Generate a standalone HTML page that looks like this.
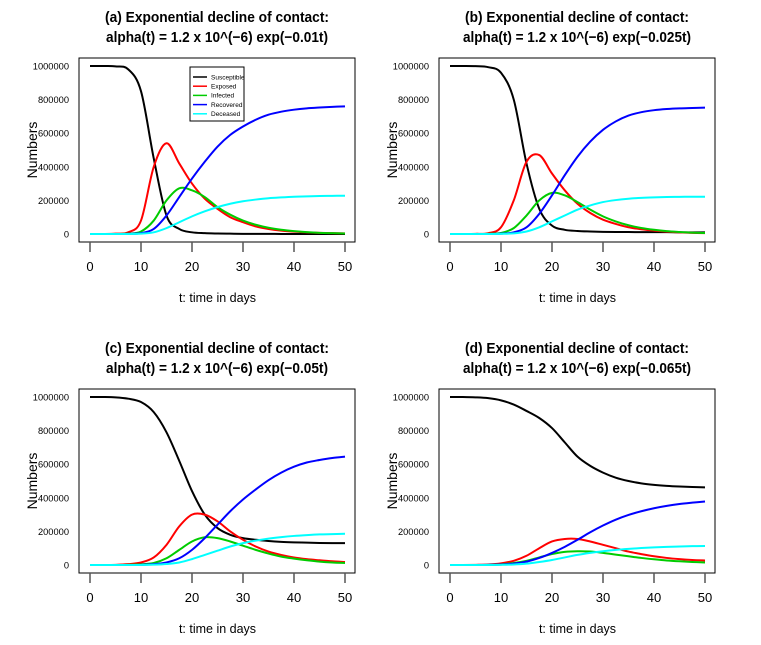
<!DOCTYPE html>
<html><head><meta charset="utf-8">
<style>
html,body{margin:0;padding:0;background:#fff;}
svg{display:block;font-family:"Liberation Sans",Arial,sans-serif;}
</style></head>
<body>
<svg id="chart" width="761" height="645" viewBox="0 0 761 645" xmlns="http://www.w3.org/2000/svg"></svg>
<script>
const times = [0,2.5,5,7.5,10,12.5,15,17.5,20,22.5,25,27.5,30,32.5,35,37.5,40,42.5,45,47.5,50];
const xTicks = [0,10,20,30,40,50];
const yTicks = [0,200000,400000,600000,800000,1000000];
const seriesNames = ["Susceptible","Exposed","Infected","Recovered","Deceased"];
const seriesColors = ["#000000","#ff0000","#00cc00","#0000ff","#00ffff"];
const titlesLine1 = ["(a) Exponential decline of contact:","(b) Exponential decline of contact:","(c) Exponential decline of contact:","(d) Exponential decline of contact:"];
const titlesLine2 = ["alpha(t) = 1.2 x 10^(\u22126) exp(\u22120.01t)","alpha(t) = 1.2 x 10^(\u22126) exp(\u22120.025t)","alpha(t) = 1.2 x 10^(\u22126) exp(\u22120.05t)","alpha(t) = 1.2 x 10^(\u22126) exp(\u22120.065t)"];
// values in thousands
const aS = [1000,1000,998,980,850,450,110,30,10,5,3,2,1,1,1,0,0,0,0,0,0];
const aE = [0,0,2,10,80,400,540,420,300,210,150,100,70,45,30,20,14,10,7,5,4];
const aI = [0,0,0,2,15,80,200,272,260,220,160,115,80,55,37,25,17,11,7,5,3];
const aR = [0,0,0,1,5,30,110,220,330,430,520,590,640,680,710,728,740,748,753,757,760];
const aD = [0,0,0,0,2,10,35,70,105,135,160,180,195,205,213,218,222,224,226,227,228];
const bS = [1000,1000,999,993,960,800,420,150,50,25,18,15,13,12,12,11,11,11,10,10,10];
const bE = [0,0,1,5,40,200,430,470,360,260,180,125,85,60,40,28,20,14,10,7,5];
const bI = [0,0,0,1,6,35,110,200,245,230,190,145,105,75,52,36,25,17,12,8,6];
const bR = [0,0,0,0,2,10,40,120,230,350,460,550,620,670,705,725,737,744,748,750,752];
const bD = [0,0,0,0,1,4,15,40,75,110,145,170,190,202,210,215,218,220,221,222,222];
const cS = [1000,1000,998,990,970,910,790,620,440,300,220,180,160,150,143,138,135,133,131,130,130];
const cE = [0,0,1,5,15,45,120,230,300,300,260,200,150,110,80,60,45,35,28,22,18];
const cI = [0,0,0,1,4,12,40,90,140,165,160,140,115,90,68,50,38,28,20,15,12];
const cR = [0,0,0,0,1,5,15,40,90,160,240,320,390,450,505,550,585,610,625,637,645];
const cD = [0,0,0,0,0,2,6,15,35,60,85,110,130,145,157,166,173,178,182,184,186];
const dS = [1000,1000,998,993,980,955,917,875,815,730,645,590,550,520,500,486,477,471,467,464,462];
const dE = [0,0,1,3,10,25,55,100,140,155,155,140,120,100,80,65,52,42,35,30,27];
const dI = [0,0,0,1,4,12,25,45,65,78,82,80,72,62,52,42,34,27,22,18,15];
const dR = [0,0,0,1,3,8,20,42,72,108,150,195,235,270,298,320,338,352,363,371,378];
const dD = [0,0,0,0,1,3,8,18,30,45,60,72,82,90,96,101,105,108,110,112,113];
const panelData = [[aS,aE,aI,aR,aD],[bS,bE,bI,bR,bD],[cS,cE,cI,cR,cD],[dS,dE,dI,dR,dD]];

const NS="http://www.w3.org/2000/svg";
const svg=document.getElementById('chart');
function mk(tag,attrs,parent){const e=document.createElementNS(NS,tag);for(const k in attrs)e.setAttribute(k,attrs[k]);(parent||svg).appendChild(e);return e;}
function pathFrom(pts){
  let d="M"+pts[0][0].toFixed(2)+","+pts[0][1].toFixed(2);
  for(let i=0;i<pts.length-1;i++){
    const p0=pts[Math.max(0,i-1)],p1=pts[i],p2=pts[i+1],p3=pts[Math.min(pts.length-1,i+2)];
    const c1=[p1[0]+(p2[0]-p0[0])/6,p1[1]+(p2[1]-p0[1])/6];
    const c2=[p2[0]-(p3[0]-p1[0])/6,p2[1]-(p3[1]-p1[1])/6];
    d+=" C"+c1[0].toFixed(2)+","+c1[1].toFixed(2)+" "+c2[0].toFixed(2)+","+c2[1].toFixed(2)+" "+p2[0].toFixed(2)+","+p2[1].toFixed(2);
  }
  return d;
}
const letters=['a','b','c','d'];
const t2len=[222,228,222,228];
for(let p=0;p<4;p++){
  const ox=(p%2)*360, oy=Math.floor(p/2)*331;
  const g=mk('g',{});
  
  
  const x0=90+ox, x1=345+ox, y0=234+oy, y1=66+oy;
  const xs=t=>x0+(t/50)*(x1-x0);
  const ys=v=>y0-(v/1000000)*(y0-y1);
  const t1=mk('text',{x:217+ox,y:22+oy,'text-anchor':'middle','font-size':15,'font-weight':'bold',textLength:224,lengthAdjust:'spacingAndGlyphs'},g);t1.textContent=titlesLine1[p];
  
  const t2=mk('text',{x:217+ox,y:42+oy,'text-anchor':'middle','font-size':15,'font-weight':'bold',textLength:t2len[p],lengthAdjust:'spacingAndGlyphs'},g);t2.textContent=titlesLine2[p];
  
  const box=mk('rect',{x:79+ox,y:58+oy,width:276,height:184,fill:'none',stroke:'#000','stroke-width':1},g);
  
  const xa=mk('g',{},g);
  xTicks.forEach(t=>{
    mk('line',{x1:xs(t),x2:xs(t),y1:242+oy,y2:252+oy,stroke:'#555','stroke-width':1.5},xa);
    const l=mk('text',{x:xs(t),y:271+oy,'text-anchor':'middle','font-size':13},xa);l.textContent=t;
    
  });
  const ya=mk('g',{},g);
  yTicks.forEach(v=>{
    const l=mk('text',{x:69+ox,y:ys(v)+3.5,'text-anchor':'end','font-size':9.3},ya);l.textContent=v;
    
  });
  const xt=mk('text',{x:(x0+x1)/2,y:302+oy,'text-anchor':'middle','font-size':12.5},g);xt.textContent='t: time in days';
  
  const yt=mk('text',{x:0,y:0,'text-anchor':'middle','font-size':14,transform:'translate('+(37+ox)+','+(150+oy)+') rotate(-90)'},g);yt.textContent='Numbers';
  
  panelData[p].forEach((arr,si)=>{
    const pts=arr.map((v,i)=>[xs(times[i]),ys(v*1000)]);
    const line=mk('path',{d:pathFrom(pts),fill:'none',stroke:seriesColors[si],'stroke-width':2},g);
    
    
  });
  if(p===0){
    const lg=mk('g',{},g);
    mk('rect',{x:190,y:67,width:54,height:54,fill:'#fff',stroke:'#000','stroke-width':1},lg);
    seriesNames.forEach((n,i)=>{
      const yy=77+i*9.2;
      const en=mk('g',{},lg);
      mk('line',{x1:193,x2:207,y1:yy,y2:yy,stroke:seriesColors[i],'stroke-width':1.5},en);
      const t=mk('text',{x:211,y:yy+2.3,'font-size':6.5},en);t.textContent=n;
    });
  }
}
</script>
</body></html>
